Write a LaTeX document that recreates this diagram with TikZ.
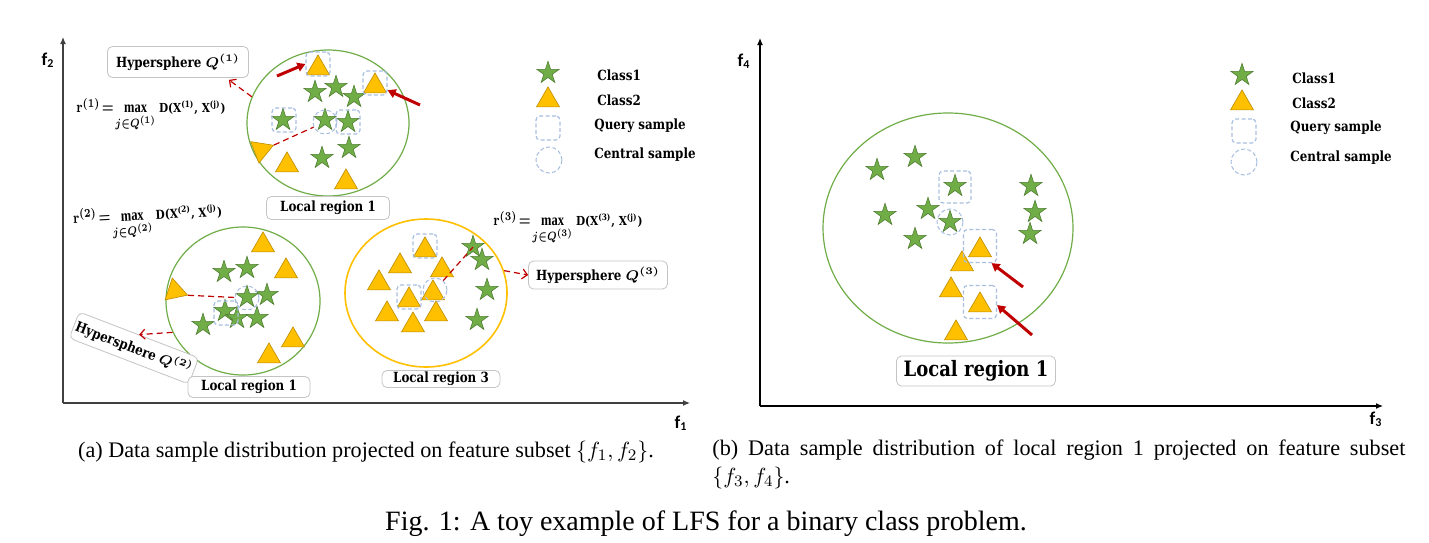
\documentclass[tikz,border=0pt]{standalone}
\usepackage{fontspec}
\setmainfont{Liberation Serif}
\newfontfamily\slab{DejaVu Serif}[FakeStretch=0.85]
\newfontfamily\axfont{Carlito}
\usetikzlibrary{shapes.geometric,arrows.meta}
\definecolor{cgreen}{HTML}{70AD47}
\definecolor{cgreenD}{HTML}{507E32}
\definecolor{cgold}{HTML}{FFC000}
\definecolor{cgoldD}{HTML}{BC8C00}
\definecolor{cquery}{HTML}{A9BFE0}
\definecolor{cred}{HTML}{C00000}
\definecolor{cborder}{HTML}{C4C4C4}
\newcommand\lf{\slab\bfseries\fontsize{7}{8}\selectfont}
\newcommand\lfbig{\slab\bfseries\fontsize{10.6}{12}\selectfont}
\newcommand\fmlD{\slab\bfseries\fontsize{6.2}{7}\selectfont}
\newcommand\rform[1]{\scalebox{0.78}[1]{\fontsize{8}{9}\selectfont\boldmath$\mathbf{r}^{(#1)}\!=\!\max\limits_{j\in Q^{(#1)}}$}\hspace{1.6pt}{\fmlD D(X\textsuperscript{(#1)}, X\textsuperscript{(j)})}}
\tikzset{
  starS/.style={star, star points=5, star point ratio=2.6, minimum size=11.6pt, inner sep=0pt, fill=cgreen, draw=cgreenD, line width=0.3pt},
  triS/.style={regular polygon, regular polygon sides=3, minimum size=13.3pt, inner sep=0pt, fill=cgold, draw=cgoldD, line width=0.3pt, yshift=-1.6pt},
  rtri/.style={regular polygon, regular polygon sides=3, minimum size=13.3pt, inner sep=0pt, fill=cgold, draw=cgoldD, line width=0.3pt},
  qbox/.style={rectangle, rounded corners=2pt, draw=cquery, dash pattern=on 2pt off 1.2pt, line width=0.6pt, minimum size=12pt, inner sep=0pt},
  csamp/.style={circle, draw=cquery, dash pattern=on 2pt off 1.2pt, line width=0.5pt, minimum size=12pt, inner sep=0pt},
  lbl/.style={draw=cborder, rounded corners=2.5pt, line width=0.4pt, fill=white, font=\lf, inner sep=0pt},
  fml/.style={font=\lf, inner sep=0pt},
  legtxt/.style={font=\lf, inner sep=0pt, anchor=west},
  redthick/.style={draw=cred, line width=1.5pt, -{Triangle[length=4pt,width=4.5pt]}},
  reddash/.style={draw=cred, line width=0.6pt, dash pattern=on 3pt off 2pt},
  reddasharrow/.style={reddash, -{Straight Barb[length=2.5pt,width=5pt]}},
  axisline/.style={draw=black!75, line width=0.6pt, -{Latex[length=3.5pt,width=3pt]}},
  axlbl/.style={font=\axfont\bfseries\fontsize{9}{10}\selectfont, inner sep=0pt},
  regionG/.style={ellipse, draw=cgreen, line width=0.6pt, inner sep=0pt},
  regionO/.style={ellipse, draw=cgold, line width=0.8pt, inner sep=0pt},
}
\begin{document}
\begin{tikzpicture}[x=0.5pt,y=-0.5pt]
\useasboundingbox (0,0) rectangle (1429,542);
\fill[white] (0,0) rectangle (1429,542);

% ---------------- left panel axes
\coordinate (O1) at (63,403);
\coordinate (Y1) at (63,37);
\coordinate (X1) at (690,403);
\draw[axisline] (O1) -- (Y1);
\draw[axisline] (O1) -- (X1);
\node[axlbl] (f2) at (48,60) {f\textsubscript{2}};
\node[axlbl] (f1) at (681,423) {f\textsubscript{1}};

% ---------------- right panel axes
\coordinate (O2) at (760,406);
\coordinate (Y2) at (760,38);
\coordinate (X2) at (1383,406);
\draw[axisline, draw=black] (O2) -- (Y2);
\draw[axisline, draw=black] (O2) -- (X2);
\node[axlbl] (f4) at (744,61) {f\textsubscript{4}};
\node[axlbl] (f3) at (1376,419) {f\textsubscript{3}};

% ---------------- regions
\node[regionG, minimum width=81pt, minimum height=73pt] (c1) at (328,123) {};
\node[regionG, minimum width=77pt, minimum height=74pt] (c2) at (243,301) {};
\node[regionO, minimum width=81pt, minimum height=74pt] (c3) at (426,293) {};
\node[regionG, minimum width=125pt, minimum height=115pt] (c4) at (948,228) {};

% ---------------- region 1 (top)
\node[triS] (T1a) at (318,65) {};
\node[triS] (T1b) at (375,83) {};
\node[starS] (S1a) at (315,92) {};
\node[starS] (S1b) at (336,87) {};
\node[starS] (S1c) at (354,97) {};
\node[starS] (S1d) at (283,120) {};
\node[starS] (S1e) at (325,120) {};
\node[starS] (S1f) at (348,122) {};
\node[starS] (S1g) at (349,148) {};
\node[starS] (S1h) at (322,158) {};
\node[triS] (T1c) at (287,162) {};
\node[triS] (T1d) at (346,179) {};
\node[rtri, rotate=51] (R1) at (261,150) {};
\node[qbox] (Q1a) at (318,64) {};
\node[qbox] (Q1b) at (375,83) {};
\node[qbox] (Q1c) at (284,120) {};
\node[qbox] (Q1d) at (348,122) {};
\node[csamp] (C1) at (325,122) {};

% ---------------- region 2 (bottom left)
\node[triS] (T2a) at (263,242) {};
\node[triS] (T2b) at (286,268) {};
\node[triS] (T2c) at (293,337) {};
\node[triS] (T2d) at (269,353) {};
\node[rtri, rotate=12] (R2) at (175,291) {};
\node[starS] (S2a) at (224,272) {};
\node[starS] (S2b) at (247,268) {};
\node[starS] (S2c) at (247,297) {};
\node[starS] (S2d) at (267,295) {};
\node[starS] (S2e) at (225,311) {};
\node[starS] (S2f) at (237,318) {};
\node[starS] (S2g) at (257,318) {};
\node[starS] (S2h) at (203,325) {};
\node[qbox] (Q2) at (226,313) {};
\node[csamp] (C2) at (247,298) {};

% ---------------- region 3 (bottom right)
\node[triS] (T3a) at (425,247) {};
\node[triS] (T3b) at (400,263) {};
\node[triS] (T3c) at (442,267) {};
\node[triS] (T3d) at (379,280) {};
\node[triS] (T3e) at (433,290) {};
\node[triS] (T3f) at (409,297) {};
\node[triS] (T3g) at (387,311) {};
\node[triS] (T3h) at (436,311) {};
\node[triS] (T3i) at (413,322) {};
\node[starS] (S3a) at (473,247) {};
\node[starS] (S3b) at (482,260) {};
\node[starS] (S3c) at (487,290) {};
\node[starS] (S3d) at (477,320) {};
\node[qbox] (Q3a) at (425,246) {};
\node[qbox] (Q3b) at (409,297) {};
\node[csamp] (C3) at (435,290) {};

% ---------------- right panel region
\node[starS] (U1) at (877,170) {};
\node[starS] (U2) at (915,157) {};
\node[starS] (U3) at (955,186) {};
\node[starS] (U4) at (885,215) {};
\node[starS] (U5) at (928,209) {};
\node[starS] (U6) at (950,222) {};
\node[starS] (U7) at (915,239) {};
\node[starS] (U8) at (1031,186) {};
\node[starS] (U9) at (1035,212) {};
\node[starS] (U10) at (1030,234) {};
\node[triS] (V1) at (980,247) {};
\node[triS] (V2) at (962,261) {};
\node[triS] (V3) at (951,287) {};
\node[triS] (V4) at (980,302) {};
\node[triS] (V5) at (956,330) {};
\node[qbox, minimum size=16pt] (Qr0) at (955,187) {};
\node[qbox, minimum size=16.5pt] (Qr1) at (980,246) {};
\node[qbox, minimum size=16.5pt] (Qr2) at (980,302) {};
\node[csamp, minimum size=13pt] (Cr) at (950,222) {};

% ---------------- labels
\node[lbl, minimum width=70.5pt, minimum height=15.5pt] (h1) at (178,62) {Hypersphere {\boldmath$Q^{(1)}$}};
\node[lbl, minimum width=61.5pt, minimum height=11.5pt] (L1) at (328,208) {Local region 1};
\node[lbl, minimum width=64pt, minimum height=14pt, rotate=-21] (h2) at (134,348) {Hypersphere {\boldmath$Q^{(2)}$}};
\node[lbl, minimum width=61pt, minimum height=10.5pt] (L2) at (249,387) {Local region 1};
\node[lbl, minimum width=69.5pt, minimum height=14pt] (h3) at (598,275) {Hypersphere {\boldmath$Q^{(3)}$}};
\node[lbl, minimum width=59pt, minimum height=8.5pt] (L3) at (441,379) {Local region 3};
\node[lbl, font=\lfbig, minimum width=79.5pt, minimum height=15pt] (L4) at (976,371) {Local region 1};

\node[fml] (r1) at (151,115) {\rform{1}};
\node[fml, rotate=3] (r2) at (148,222) {\rform{2}};
\node[fml] (r3) at (568,228) {\rform{3}};

% ---------------- connectors
\coordinate (a1s) at (277,76);
\coordinate (a2s) at (420,105);
\draw[redthick] (a1s) -- (Q1a.west);
\draw[redthick] (a2s) -- (Q1b.-30);
\draw[reddash] (R1.corner 3) -- (C1);
\draw[reddasharrow] (c1.161) -- ([xshift=-10pt,yshift=-1pt]h1.south east);
\draw[reddash] (R2.corner 3) -- (C2);
\draw[reddasharrow] (c2.204) -- (h2.north);
\draw[reddash] (C3) -- (S3a.center);
\draw[reddasharrow] (c3.16) -- (h3.west);
\coordinate (b1s) at (1023,287);
\coordinate (b2s) at (1032,335);
\draw[redthick] (b1s) -- (Qr1.-56);
\draw[redthick] (b2s) -- (Qr2.-10);

% ---------------- legends
\node[starS] (lgS1) at (548,73) {};
\node[triS] (lgT1) at (548,97) {};
\node[qbox] (lgQ1) at (548,128) {};
\node[csamp, minimum size=13pt] (lgC1) at (549,160) {};
\node[legtxt] (lt1a) at (597,75) {Class1};
\node[legtxt] (lt1b) at (597,100) {Class2};
\node[legtxt] (lt1c) at (594,126) {Query sample};
\node[legtxt] (lt1d) at (594,155) {Central sample};

\node[starS] (lgS2) at (1242,75) {};
\node[triS] (lgT2) at (1242,100) {};
\node[qbox] (lgQ2) at (1244,131) {};
\node[csamp, minimum size=13pt] (lgC2) at (1244,162) {};
\node[legtxt] (lt2a) at (1292,78) {Class1};
\node[legtxt] (lt2b) at (1292,103) {Class2};
\node[legtxt] (lt2c) at (1290,128) {Query sample};
\node[legtxt] (lt2d) at (1290,158) {Central sample};

% ---------------- captions
\node[inner sep=0pt, font=\fontsize{11.1}{14}\selectfont] (capa) at (366,452) {(a) Data sample distribution projected on feature subset $\{f_1, f_2\}$.};
\node[inner sep=0pt, anchor=north west, font=\fontsize{11.1}{14}\selectfont] (capb) at (712,439) {\parbox{346.5pt}{(b) Data sample distribution of local region 1 projected on feature subset\linebreak $\{f_3, f_4\}$.}};
\node[inner sep=0pt, font=\fontsize{14}{16}\selectfont] (capf) at (706,524) {Fig. 1: A toy example of LFS for a binary class problem.};
\end{tikzpicture}
\end{document}
